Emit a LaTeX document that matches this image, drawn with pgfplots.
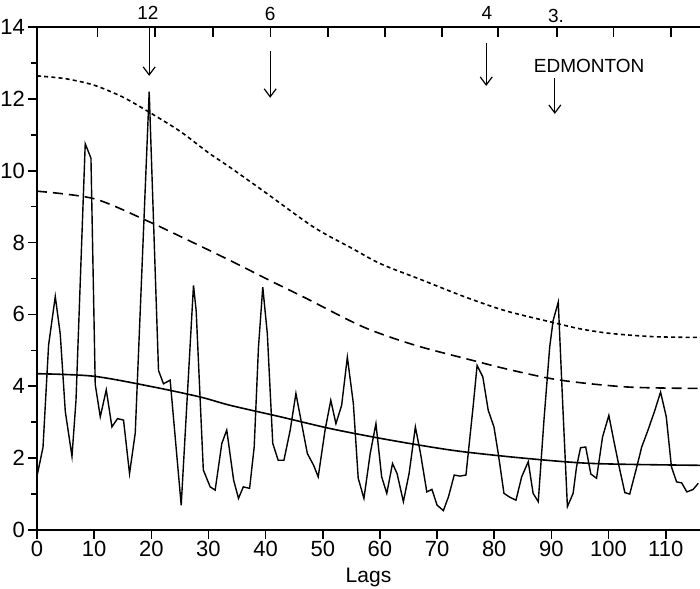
\documentclass[border=0pt]{standalone}
\usepackage{fontspec}
\setmainfont{Liberation Sans}
\usepackage{pgfplots}
\pgfplotsset{compat=1.18}
\usetikzlibrary{arrows.meta}
\begin{document}
\begin{tikzpicture}
\begin{axis}[
  scale only axis, width=331.5pt, height=251.5pt,
  xmin=0, xmax=116, ymin=0, ymax=14,
  axis line style={draw=none},
  xtick={0,10,...,110}, ytick={0,2,...,14},
  minor y tick num=1,
  xtick pos=bottom, ytick pos=left,
  tick align=outside,
  major tick length=4.5pt, minor tick length=3pt,
  tick style={black, line width=0.8pt},
  /pgf/number format/assume math mode=true,
  tick label style={font=\fontsize{11}{12}\selectfont},
  xticklabel style={yshift=2.5pt},
  yticklabel style={xshift=2pt},
  xlabel={Lags}, xlabel style={font=\fontsize{10.5}{12}\selectfont, yshift=1pt},
  clip=false,
]
% frame: left, bottom, top
\draw[line width=1pt] (rel axis cs:0,1) -- (rel axis cs:0,0) -- (rel axis cs:1,0);
\draw[line width=1pt] (rel axis cs:0,1) -- (rel axis cs:1,1);
\draw[densely dotted, line width=0.4pt, gray] (axis cs:116,0) -- (axis cs:116,2.3);
% top ticks
\pgfplotsinvokeforeach{10.54,20.68,30.82,40.9,50.9,60.9,70.85,80.65,90.96,100.9,110.9}{
  \draw[line width=0.7pt] (axis cs:#1,14) -- ++(0,-5pt);
}
% upper short-dashed curve
\addplot[black, line width=0.8pt, dash pattern=on 2pt off 1.6pt, smooth] coordinates {
(0,12.64) (5,12.56) (10,12.38) (15,12.05) (19.2,11.67) (25,11.1) (30,10.5)
(33.8,10.09) (40,9.39) (48.4,8.43) (55,7.85) (60.1,7.41) (67,6.98) (75,6.48)
(82,6.1) (89.9,5.79) (95,5.6) (100.4,5.47) (108,5.38) (116,5.36)};
% long dashed curve
\addplot[black, line width=0.8pt, dash pattern=on 5pt off 3pt, smooth] coordinates {
(0,9.43) (10,9.22) (19.2,8.61) (26,8.1) (33.8,7.5) (40.8,6.94) (47.2,6.44)
(57.1,5.65) (66,5.15) (75,4.77) (83,4.45) (91.6,4.17) (103.3,3.98) (116,3.94)};
% smooth solid curve
\addplot[black, line width=0.8pt, smooth] coordinates {
(0,4.35) (9.9,4.28) (20.4,3.98) (28.6,3.7) (33.8,3.47) (42.6,3.15) (51.4,2.82)
(60.1,2.55) (68.9,2.31) (75,2.17) (85.8,1.99) (97.5,1.85) (116,1.8)};
% jagged series
\addplot[black, line width=0.7pt] coordinates {
(0,1.5) (1.05,2.3) (2.03,5.15) (3.2,6.5) (4.07,5.45) (4.95,3.3) (6.12,2.05)
(6.82,3.6) (8.44,10.75) (9.44,10.35) (10.19,4.05) (11.07,3.15) (12.12,3.9)
(13.11,2.87) (14.09,3.1) (15.14,3.06) (16.19,1.57) (17.19,2.7) (19.63,12.2)
(21.26,4.44) (22.13,4.07) (23.3,4.17) (25.23,0.69) (27.38,6.81) (27.85,6.1)
(29.1,1.67) (30.3,1.2) (31.17,1.11) (32.34,2.41) (33.2,2.78) (34.4,1.39)
(35.25,0.88) (36.1,1.2) (37.2,1.16) (38.0,2.31) (38.75,5.09) (39.5,6.76)
(40.3,5.46) (41.25,2.41) (42.2,1.94) (43.2,1.94) (44.3,2.78) (45.3,3.8)
(46.3,2.96) (47.3,2.13) (48.4,1.8) (49.2,1.48) (50.4,2.78) (51.4,3.61)
(52.3,2.96) (53.3,3.47) (54.3,4.81) (55.35,3.52) (56.2,1.44) (57.2,0.88)
(58.3,2.13) (59.3,2.96) (60.3,1.48) (61.2,1.02) (62.2,1.85) (63.0,1.57)
(64.1,0.79) (65.1,1.57) (66.2,2.87) (67.1,2.13) (68.2,1.06) (69.1,1.13)
(70.0,0.69) (71.1,0.54) (72.0,0.93) (73.0,1.53) (74.0,1.5) (75.05,1.53)
(76.3,3.43) (77.0,4.58) (78.0,4.26) (78.95,3.33) (79.95,2.87) (80.7,2.13)
(81.7,1.02) (82.75,0.91) (83.8,0.83) (84.8,1.48) (85.95,1.9) (86.8,1.02)
(87.7,0.79) (88.7,3.06) (89.7,5.09) (90.3,5.83) (91.2,6.34) (92.0,3.43)
(92.8,0.65) (93.8,1.02) (94.4,1.76) (95.1,2.29) (96.0,2.31) (96.9,1.56)
(97.9,1.44) (98.95,2.59) (100.05,3.19) (100.9,2.5) (101.85,1.76) (102.85,1.04)
(103.7,1.0) (104.8,1.67) (105.8,2.31) (106.9,2.78) (108.1,3.33) (109.1,3.84)
(110.1,3.15) (111.0,1.76) (111.9,1.34) (112.8,1.31) (113.7,1.06) (114.8,1.13)
(115.7,1.3)};
% annotations
\draw[line width=0.6pt, -{Straight Barb[length=4pt,width=6pt]}] (axis cs:19.63,14) -- (axis cs:19.63,12.64);
\draw[line width=0.6pt, -{Straight Barb[length=4pt,width=6pt]}] (axis cs:40.8,13.33) -- (axis cs:40.8,12.03);
\draw[line width=0.6pt, -{Straight Barb[length=4pt,width=6pt]}] (axis cs:78.6,13.56) -- (axis cs:78.6,12.36);
\draw[line width=0.6pt, -{Straight Barb[length=4pt,width=6pt]}] (axis cs:90.6,12.58) -- (axis cs:90.6,11.58);
\node[font=\fontsize{9.5}{10}\selectfont] at (axis cs:19.4,14.4) {12};
\node[font=\fontsize{9.5}{10}\selectfont] at (axis cs:40.8,14.35) {6};
\node[font=\fontsize{9.5}{10}\selectfont] at (axis cs:78.7,14.4) {4};
\node[font=\fontsize{9.5}{10}\selectfont] at (axis cs:90.8,14.3) {3.};
\node[font=\fontsize{9.5}{10}\selectfont] at (axis cs:96.6,12.92) {EDMONTON};
\end{axis}
\pgfresetboundingbox
\path[use as bounding box] (-18.5pt,-29pt) rectangle (331.5pt,265pt);
\end{tikzpicture}
\end{document}
